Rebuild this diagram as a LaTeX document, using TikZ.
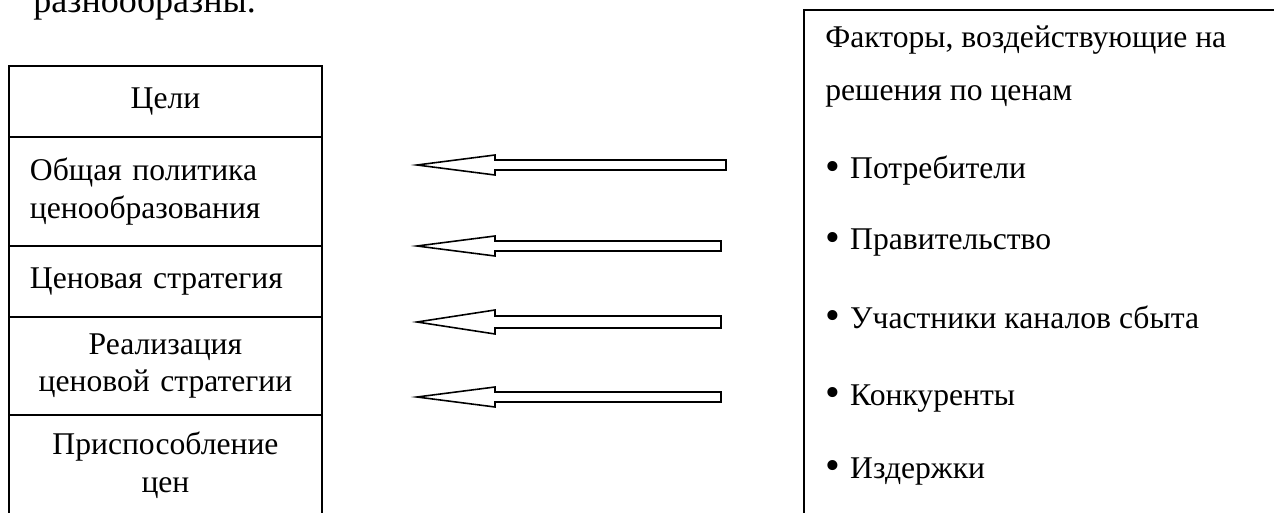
\documentclass[tikz,border=0pt]{standalone}
\usepackage{fontspec}
\setmainfont{Liberation Serif}
\usetikzlibrary{positioning}

\newcommand{\bigbul}{\raisebox{-1pt}{\fontsize{24}{24}\selectfont•}\hspace{0.32em}}

\begin{document}
\begin{tikzpicture}[
    x=0.02cm, y=-0.02cm,
    font=\fontsize{18}{21.5}\selectfont,
    stage/.style={draw, line width=1.1pt, outer sep=0pt, inner xsep=0.42cm, text width=5.42cm, minimum width=6.26cm, align=center},
    item/.style={anchor=base west, inner sep=0pt},
    blockarr/.style={draw, line width=0.9pt, fill=white, line join=miter}
  ]
  \useasboundingbox (0,0) rectangle (1274,513);
  \clip (0,0) rectangle (1274,513);
  \node[item, font=\fontsize{20.5}{25}\selectfont] (intro) at (33,13) {разнообразны.};

  \node[stage, anchor=north west, minimum height=1.42cm] (goals) at (9,66) {Цели};
  \node[stage, below=0pt of goals, minimum height=2.18cm, align=left] (policy) {Общая политика\\ценообразования};
  \node[stage, below=0pt of policy, minimum height=1.42cm, align=left] (strat) {Ценовая стратегия};
  \node[stage, below=0pt of strat, minimum height=1.96cm] (impl) {Реализация\\ценовой стратегии};
  \node[stage, below=0pt of impl, minimum height=2cm] (adjust) {Приспособление\\цен};

  \node[draw, line width=1.1pt, anchor=north west, minimum width=12cm, minimum height=12cm] (factbox) at (803,9) {};
  \node[item] (head1) at (825,48) {Факторы, воздействующие на};
  \node[item] (head2) at (825,101) {решения по ценам};
  \node[item] (cons) at (825,179) {\bigbul Потребители};
  \node[item] (gov) at (825,250) {\bigbul Правительство};
  \node[item] (chan) at (825,328) {\bigbul Участники каналов сбыта};
  \node[item] (comp) at (825,405) {\bigbul Конкуренты};
  \node[item] (cost) at (825,478) {\bigbul Издержки};

  \foreach \i/\xe/\y/\s/\h in {1/726/165/5/10, 2/721/246/5/10, 3/721/322/6/12, 4/721/397/5/10} {
    \coordinate (tip\i) at (417,\y);
    \coordinate (tail\i) at (\xe,\y);
    \draw[blockarr] (tail\i) ++(0,-\s) -- (495,\y-\s) -- (495,\y-\h) -- (tip\i)
      -- (495,\y+\h) -- (495,\y+\s) -- (\xe,\y+\s) -- cycle;
  }
\end{tikzpicture}
\end{document}
